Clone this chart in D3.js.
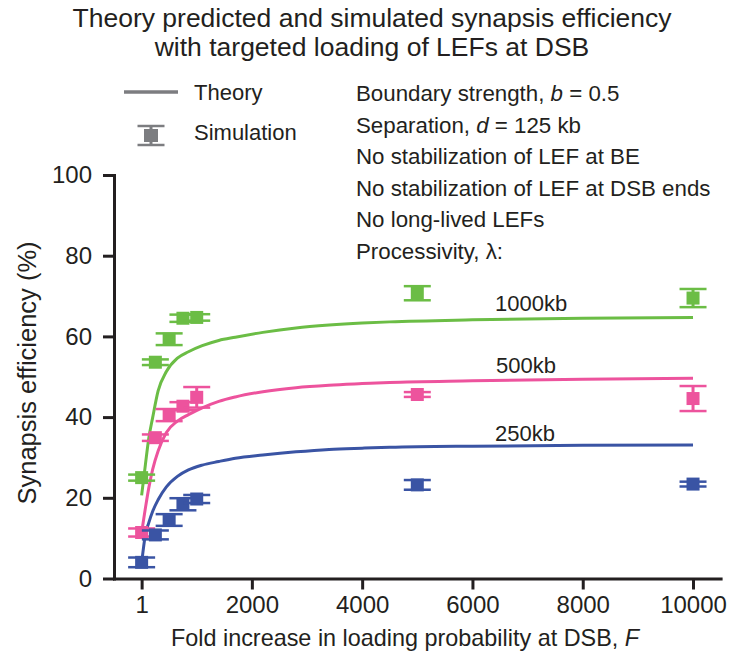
<!DOCTYPE html>
<html>
<head>
<meta charset="utf-8">
<script src="https://cdn.jsdelivr.net/npm/d3@7"></script>
<style>
  html, body { margin: 0; padding: 0; background: #fff; }
  svg { display: block; font-family: "Liberation Sans", Arial, sans-serif; }
  text { fill: #231f20; }
</style>
</head>
<body>
<svg id="chart" width="732" height="659"></svg>
<script>
// Fold increase in loading probability at the DSB used in the simulations
const simF = [1, 250, 500, 750, 1000, 5000, 10000];

// Simulated synapsis efficiency (%) and error, per processivity
const sim250 = [4.0, 10.8, 14.5, 18.4, 19.7, 23.2, 23.4];
const err250 = [1.2, 1.1, 1.45, 1.5, 1.0, 1.2, 0.6];
const sim500 = [11.4, 34.9, 40.5, 42.7, 44.9, 45.6, 44.6];
const err500 = [1.0, 0.8, 1.5, 1.0, 2.55, 0.6, 3.1];
const sim1000 = [25.0, 53.6, 59.3, 64.5, 64.7, 70.7, 69.5];
const err1000 = [0.75, 0.7, 1.45, 0.9, 0.8, 1.75, 2.25];

// Theory curves sampled along F
const theoryF = [1, 70, 130, 200, 300, 450, 650, 850, 1100, 1400, 1700, 2200, 2800, 3400, 4000, 4500, 6000, 8000, 10000];
const theory250 = [3.8, 10.9, 13.8, 16.6, 19.5, 22.7, 25.3, 26.9, 28.1, 29.0, 29.8, 30.6, 31.4, 32.0, 32.3, 32.5, 32.8, 33.0, 33.1];
const theory500 = [11.4, 17.5, 22.4, 27.0, 31.6, 36.2, 39.0, 40.6, 42.3, 43.9, 45.0, 46.3, 47.3, 47.9, 48.3, 48.6, 49.0, 49.4, 49.6];
const theory1000 = [20.6, 28.3, 34.7, 39.8, 46.5, 51.3, 54.6, 56.2, 57.7, 59.0, 59.8, 61.0, 62.1, 62.8, 63.3, 63.6, 64.1, 64.5, 64.7];

const seriesNames = ["1000kb", "500kb", "250kb"];
const xTicks = [1, 2000, 4000, 6000, 8000, 10000];
const yTicks = [0, 20, 40, 60, 80, 100];

const colors = { "1000kb": "#6bbd45", "500kb": "#ed539d", "250kb": "#3a54a4" };
const ink = "#231f20";
const legendGray = "#7c7d80";

const series = [
  { name: "1000kb", sim: sim1000, err: err1000, theory: theory1000 },
  { name: "500kb", sim: sim500, err: err500, theory: theory500 },
  { name: "250kb", sim: sim250, err: err250, theory: theory250 }
];

const svg = d3.select("#chart");

const x = d3.scaleLinear().domain([-500, 10500]).range([114, 720.6]);
const y = d3.scaleLinear().domain([0, 100]).range([578.5, 175]);

// Axes
const xAxis = svg.append("g")
  .attr("transform", `translate(0,${y(0)})`)
  .call(d3.axisBottom(x).tickValues(xTicks).tickFormat(d => String(d))
    .tickSize(11).tickSizeOuter(0).tickPadding(6));
const yAxis = svg.append("g")
  .attr("transform", `translate(${x(-500)},0)`)
  .call(d3.axisLeft(y).tickValues(yTicks).tickSize(11).tickSizeOuter(0).tickPadding(11));

[xAxis, yAxis].forEach(g => {
  g.select(".domain").attr("stroke", ink).attr("stroke-width", 3).attr("stroke-linecap", "square");
  g.selectAll(".tick line").attr("stroke", ink).attr("stroke-width", 3);
  g.selectAll(".tick text").attr("fill", ink).style("font-size", "24px")
    .style("font-family", '"Liberation Sans", Arial, sans-serif');
});

// Axis titles
const xTitle = svg.append("text")
  .attr("x", 405).attr("y", 646)
  .attr("text-anchor", "middle").style("font-size", "23.4px");
xTitle.append("tspan").text("Fold increase in loading probability at DSB, ");
xTitle.append("tspan").style("font-style", "italic").text("F");

svg.append("text")
  .attr("transform", "translate(36,373) rotate(-90)")
  .attr("text-anchor", "middle").style("font-size", "25.5px")
  .text("Synapsis efficiency (%)");

// Title
svg.append("text").attr("x", 372).attr("y", 27).attr("text-anchor", "middle")
  .style("font-size", "26.5px").text("Theory predicted and simulated synapsis efficiency");
svg.append("text").attr("x", 372).attr("y", 56).attr("text-anchor", "middle")
  .style("font-size", "26.5px").text("with targeted loading of LEFs at DSB");

// Theory curves
const line = d3.line()
  .x((d, i) => x(theoryF[i]))
  .y(d => y(d))
  .curve(d3.curveMonotoneX);

svg.append("g").selectAll("path")
  .data(series)
  .join("path")
  .attr("d", s => line(s.theory))
  .attr("fill", "none")
  .attr("stroke", s => colors[s.name])
  .attr("stroke-width", 3);

// Simulation points with error bars
const capHalf = 13.5, box = 13;
series.forEach(s => {
  const g = svg.append("g").attr("fill", colors[s.name]).attr("stroke", colors[s.name]);
  const pts = simF.map((f, i) => ({ f, v: s.sim[i], e: s.err[i] }));
  const pg = g.selectAll("g").data(pts).join("g");
  pg.append("line")
    .attr("x1", d => x(d.f)).attr("x2", d => x(d.f))
    .attr("y1", d => y(d.v + d.e)).attr("y2", d => y(d.v - d.e))
    .attr("stroke-width", 3);
  pg.append("line")
    .attr("x1", d => x(d.f) - capHalf).attr("x2", d => x(d.f) + capHalf)
    .attr("y1", d => y(d.v + d.e)).attr("y2", d => y(d.v + d.e))
    .attr("stroke-width", 2.5);
  pg.append("line")
    .attr("x1", d => x(d.f) - capHalf).attr("x2", d => x(d.f) + capHalf)
    .attr("y1", d => y(d.v - d.e)).attr("y2", d => y(d.v - d.e))
    .attr("stroke-width", 2.5);
  pg.append("rect")
    .attr("x", d => x(d.f) - box / 2).attr("y", d => y(d.v) - box / 2)
    .attr("width", box).attr("height", box)
    .attr("stroke", "none");
});

// Series labels placed over the curves
const labelPos = { "1000kb": [495, 311], "500kb": [496, 373], "250kb": [495, 441] };
svg.append("g").selectAll("text")
  .data(seriesNames)
  .join("text")
  .attr("x", d => labelPos[d][0]).attr("y", d => labelPos[d][1])
  .style("font-size", "22px")
  .text(d => d);

// Legend
const leg = svg.append("g");
leg.append("line").attr("x1", 124).attr("x2", 178).attr("y1", 92).attr("y2", 92)
  .attr("stroke", legendGray).attr("stroke-width", 3.3);
leg.append("text").attr("x", 194).attr("y", 100).style("font-size", "22px").text("Theory");
const lg = leg.append("g").attr("stroke", legendGray).attr("fill", legendGray);
lg.append("line").attr("x1", 151).attr("x2", 151).attr("y1", 126).attr("y2", 145).attr("stroke-width", 3);
lg.append("line").attr("x1", 137.5).attr("x2", 164.5).attr("y1", 126).attr("y2", 126).attr("stroke-width", 2.5);
lg.append("line").attr("x1", 137.5).attr("x2", 164.5).attr("y1", 145).attr("y2", 145).attr("stroke-width", 2.5);
lg.append("rect").attr("x", 144).attr("y", 129).attr("width", 14).attr("height", 13).attr("stroke", "none");
leg.append("text").attr("x", 194).attr("y", 140).style("font-size", "22px").text("Simulation");

// Parameter notes
const notes = [
  ["Boundary strength, ", "b", " = 0.5"],
  ["Separation, ", "d", " = 125 kb"],
  ["No stabilization of LEF at BE"],
  ["No stabilization of LEF at DSB ends"],
  ["No long-lived LEFs"],
  ["Processivity, \u03bb:"]
];
const noteG = svg.append("g");
notes.forEach((parts, i) => {
  const t = noteG.append("text").attr("x", 356).attr("y", 101 + i * 31.6).style("font-size", "22.3px");
  parts.forEach((p, j) => {
    const ts = t.append("tspan").text(p);
    if (j === 1) ts.style("font-style", "italic");
  });
});
</script>
</body>
</html>
